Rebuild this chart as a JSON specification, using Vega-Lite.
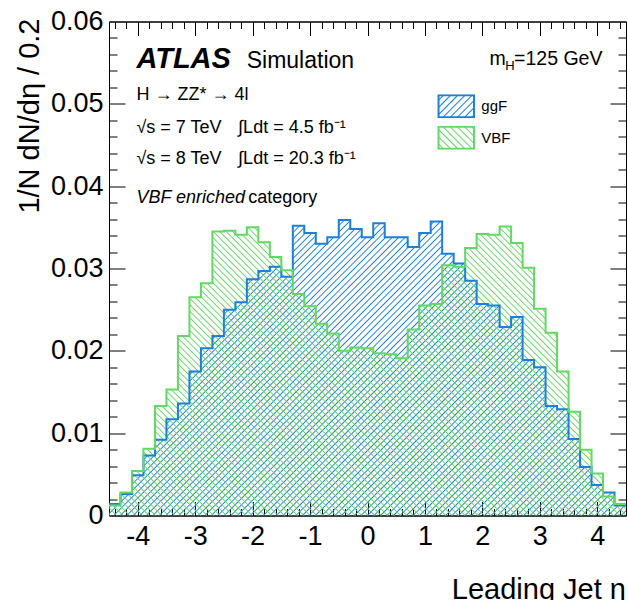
{
"$schema": "https://vega.github.io/schema/vega-lite/v6.json",
"width": 517, "height": 494,
"autosize": {"type": "none"},
"padding": {"left": 109, "top": 21.5, "right": 2, "bottom": 84.5},
"background": "white",
"config": {
 "font": "Liberation Sans",
 "view": {"stroke": "#000", "strokeWidth": 1},
 "axis": {"grid": false, "domainColor": "#000", "domainWidth": 1, "tickColor": "#000", "tickWidth": 1, "labelColor": "#000", "titleColor": "#000", "labelFont": "Liberation Sans", "titleFont": "Liberation Sans", "titleFontWeight": "normal", "zindex": 1, "labelFlush": false, "labelOverlap": false},
 "text": {"font": "Liberation Sans", "color": "#000", "align": "left", "baseline": "alphabetic"}
},
"datasets": {"h": [
{"eta":-4.5,"process":"ggF","density":0.0014},{"eta":-4.3,"process":"ggF","density":0.0026},{"eta":-4.1,"process":"ggF","density":0.0049},{"eta":-3.9,"process":"ggF","density":0.0073},{"eta":-3.7,"process":"ggF","density":0.0092},{"eta":-3.5,"process":"ggF","density":0.0117},{"eta":-3.3,"process":"ggF","density":0.0136},{"eta":-3.1,"process":"ggF","density":0.0175},{"eta":-2.9,"process":"ggF","density":0.0203},{"eta":-2.7,"process":"ggF","density":0.0218},{"eta":-2.5,"process":"ggF","density":0.025},{"eta":-2.3,"process":"ggF","density":0.0259},{"eta":-2.1,"process":"ggF","density":0.0287},{"eta":-1.9,"process":"ggF","density":0.0297},{"eta":-1.7,"process":"ggF","density":0.0302},{"eta":-1.5,"process":"ggF","density":0.029},{"eta":-1.3,"process":"ggF","density":0.0352},{"eta":-1.1,"process":"ggF","density":0.0343},{"eta":-0.9,"process":"ggF","density":0.033},{"eta":-0.7,"process":"ggF","density":0.0338},{"eta":-0.5,"process":"ggF","density":0.0359},{"eta":-0.3,"process":"ggF","density":0.0348},{"eta":-0.1,"process":"ggF","density":0.0338},{"eta":0.1,"process":"ggF","density":0.0355},{"eta":0.3,"process":"ggF","density":0.0338},{"eta":0.5,"process":"ggF","density":0.0338},{"eta":0.7,"process":"ggF","density":0.0326},{"eta":0.9,"process":"ggF","density":0.0343},{"eta":1.1,"process":"ggF","density":0.0357},{"eta":1.3,"process":"ggF","density":0.0318},{"eta":1.5,"process":"ggF","density":0.0306},{"eta":1.7,"process":"ggF","density":0.0285},{"eta":1.9,"process":"ggF","density":0.0257},{"eta":2.1,"process":"ggF","density":0.0255},{"eta":2.3,"process":"ggF","density":0.0229},{"eta":2.5,"process":"ggF","density":0.0241},{"eta":2.7,"process":"ggF","density":0.0189},{"eta":2.9,"process":"ggF","density":0.018},{"eta":3.1,"process":"ggF","density":0.0133},{"eta":3.3,"process":"ggF","density":0.0129},{"eta":3.5,"process":"ggF","density":0.0093},{"eta":3.7,"process":"ggF","density":0.0059},{"eta":3.9,"process":"ggF","density":0.0037},{"eta":4.1,"process":"ggF","density":0.0028},{"eta":4.3,"process":"ggF","density":0.0012},{"eta":4.5,"process":"ggF","density":0.0012},
{"eta":-4.5,"process":"VBF","density":0.0012},{"eta":-4.3,"process":"VBF","density":0.0028},{"eta":-4.1,"process":"VBF","density":0.0054},{"eta":-3.9,"process":"VBF","density":0.0081},{"eta":-3.7,"process":"VBF","density":0.0133},{"eta":-3.5,"process":"VBF","density":0.0153},{"eta":-3.3,"process":"VBF","density":0.0218},{"eta":-3.1,"process":"VBF","density":0.0265},{"eta":-2.9,"process":"VBF","density":0.0282},{"eta":-2.7,"process":"VBF","density":0.0345},{"eta":-2.5,"process":"VBF","density":0.0346},{"eta":-2.3,"process":"VBF","density":0.0341},{"eta":-2.1,"process":"VBF","density":0.035},{"eta":-1.9,"process":"VBF","density":0.0332},{"eta":-1.7,"process":"VBF","density":0.0314},{"eta":-1.5,"process":"VBF","density":0.0298},{"eta":-1.3,"process":"VBF","density":0.0269},{"eta":-1.1,"process":"VBF","density":0.0254},{"eta":-0.9,"process":"VBF","density":0.0233},{"eta":-0.7,"process":"VBF","density":0.0221},{"eta":-0.5,"process":"VBF","density":0.02},{"eta":-0.3,"process":"VBF","density":0.0204},{"eta":-0.1,"process":"VBF","density":0.0203},{"eta":0.1,"process":"VBF","density":0.0197},{"eta":0.3,"process":"VBF","density":0.0196},{"eta":0.5,"process":"VBF","density":0.0191},{"eta":0.7,"process":"VBF","density":0.0226},{"eta":0.9,"process":"VBF","density":0.0255},{"eta":1.1,"process":"VBF","density":0.0257},{"eta":1.3,"process":"VBF","density":0.0304},{"eta":1.5,"process":"VBF","density":0.0302},{"eta":1.7,"process":"VBF","density":0.0325},{"eta":1.9,"process":"VBF","density":0.0342},{"eta":2.1,"process":"VBF","density":0.0341},{"eta":2.3,"process":"VBF","density":0.0351},{"eta":2.5,"process":"VBF","density":0.0331},{"eta":2.7,"process":"VBF","density":0.0301},{"eta":2.9,"process":"VBF","density":0.0251},{"eta":3.1,"process":"VBF","density":0.0222},{"eta":3.3,"process":"VBF","density":0.0175},{"eta":3.5,"process":"VBF","density":0.0126},{"eta":3.7,"process":"VBF","density":0.008},{"eta":3.9,"process":"VBF","density":0.0051},{"eta":4.1,"process":"VBF","density":0.0023},{"eta":4.3,"process":"VBF","density":0.0014},{"eta":4.5,"process":"VBF","density":0.0014}
]},
"data": {"name": "h"},
"resolve": {"axis": {"x": "independent", "y": "independent"}},
"layer": [
{
 "transform": [{"filter": "datum.process === 'ggF'"}],
 "mark": {"type": "area", "interpolate": "step-after", "opacity": 1, "strokeWidth": 0, "fill": {"gradient": "linear", "x1": 0, "y1": 0, "x2": 1.185, "y2": 0.678, "stops": [
{"offset":0,"color":"#1a80dc00"},{"offset":0.0016,"color":"#1a80dc"},{"offset":0.0032,"color":"#1a80dc00"},
{"offset":0.008,"color":"#1a80dc00"},{"offset":0.0096,"color":"#1a80dc"},{"offset":0.0112,"color":"#1a80dc00"},
{"offset":0.016,"color":"#1a80dc00"},{"offset":0.0176,"color":"#1a80dc"},{"offset":0.0192,"color":"#1a80dc00"},
{"offset":0.024,"color":"#1a80dc00"},{"offset":0.0256,"color":"#1a80dc"},{"offset":0.0272,"color":"#1a80dc00"},
{"offset":0.032,"color":"#1a80dc00"},{"offset":0.0336,"color":"#1a80dc"},{"offset":0.0352,"color":"#1a80dc00"},
{"offset":0.04,"color":"#1a80dc00"},{"offset":0.0416,"color":"#1a80dc"},{"offset":0.0432,"color":"#1a80dc00"},
{"offset":0.048,"color":"#1a80dc00"},{"offset":0.0496,"color":"#1a80dc"},{"offset":0.0512,"color":"#1a80dc00"},
{"offset":0.056,"color":"#1a80dc00"},{"offset":0.0576,"color":"#1a80dc"},{"offset":0.0592,"color":"#1a80dc00"},
{"offset":0.064,"color":"#1a80dc00"},{"offset":0.0656,"color":"#1a80dc"},{"offset":0.0672,"color":"#1a80dc00"},
{"offset":0.072,"color":"#1a80dc00"},{"offset":0.0736,"color":"#1a80dc"},{"offset":0.0752,"color":"#1a80dc00"},
{"offset":0.08,"color":"#1a80dc00"},{"offset":0.0816,"color":"#1a80dc"},{"offset":0.0832,"color":"#1a80dc00"},
{"offset":0.088,"color":"#1a80dc00"},{"offset":0.0896,"color":"#1a80dc"},{"offset":0.0912,"color":"#1a80dc00"},
{"offset":0.096,"color":"#1a80dc00"},{"offset":0.0976,"color":"#1a80dc"},{"offset":0.0992,"color":"#1a80dc00"},
{"offset":0.104,"color":"#1a80dc00"},{"offset":0.1056,"color":"#1a80dc"},{"offset":0.1072,"color":"#1a80dc00"},
{"offset":0.112,"color":"#1a80dc00"},{"offset":0.1136,"color":"#1a80dc"},{"offset":0.1152,"color":"#1a80dc00"},
{"offset":0.12,"color":"#1a80dc00"},{"offset":0.1216,"color":"#1a80dc"},{"offset":0.1232,"color":"#1a80dc00"},
{"offset":0.128,"color":"#1a80dc00"},{"offset":0.1296,"color":"#1a80dc"},{"offset":0.1312,"color":"#1a80dc00"},
{"offset":0.136,"color":"#1a80dc00"},{"offset":0.1376,"color":"#1a80dc"},{"offset":0.1392,"color":"#1a80dc00"},
{"offset":0.144,"color":"#1a80dc00"},{"offset":0.1456,"color":"#1a80dc"},{"offset":0.1472,"color":"#1a80dc00"},
{"offset":0.152,"color":"#1a80dc00"},{"offset":0.1536,"color":"#1a80dc"},{"offset":0.1552,"color":"#1a80dc00"},
{"offset":0.16,"color":"#1a80dc00"},{"offset":0.1616,"color":"#1a80dc"},{"offset":0.1632,"color":"#1a80dc00"},
{"offset":0.168,"color":"#1a80dc00"},{"offset":0.1696,"color":"#1a80dc"},{"offset":0.1712,"color":"#1a80dc00"},
{"offset":0.176,"color":"#1a80dc00"},{"offset":0.1776,"color":"#1a80dc"},{"offset":0.1792,"color":"#1a80dc00"},
{"offset":0.184,"color":"#1a80dc00"},{"offset":0.1856,"color":"#1a80dc"},{"offset":0.1872,"color":"#1a80dc00"},
{"offset":0.192,"color":"#1a80dc00"},{"offset":0.1936,"color":"#1a80dc"},{"offset":0.1952,"color":"#1a80dc00"},
{"offset":0.2,"color":"#1a80dc00"},{"offset":0.2016,"color":"#1a80dc"},{"offset":0.2032,"color":"#1a80dc00"},
{"offset":0.208,"color":"#1a80dc00"},{"offset":0.2096,"color":"#1a80dc"},{"offset":0.2112,"color":"#1a80dc00"},
{"offset":0.216,"color":"#1a80dc00"},{"offset":0.2176,"color":"#1a80dc"},{"offset":0.2192,"color":"#1a80dc00"},
{"offset":0.224,"color":"#1a80dc00"},{"offset":0.2256,"color":"#1a80dc"},{"offset":0.2272,"color":"#1a80dc00"},
{"offset":0.232,"color":"#1a80dc00"},{"offset":0.2336,"color":"#1a80dc"},{"offset":0.2352,"color":"#1a80dc00"},
{"offset":0.24,"color":"#1a80dc00"},{"offset":0.2416,"color":"#1a80dc"},{"offset":0.2432,"color":"#1a80dc00"},
{"offset":0.248,"color":"#1a80dc00"},{"offset":0.2496,"color":"#1a80dc"},{"offset":0.2512,"color":"#1a80dc00"},
{"offset":0.256,"color":"#1a80dc00"},{"offset":0.2576,"color":"#1a80dc"},{"offset":0.2592,"color":"#1a80dc00"},
{"offset":0.264,"color":"#1a80dc00"},{"offset":0.2656,"color":"#1a80dc"},{"offset":0.2672,"color":"#1a80dc00"},
{"offset":0.272,"color":"#1a80dc00"},{"offset":0.2736,"color":"#1a80dc"},{"offset":0.2752,"color":"#1a80dc00"},
{"offset":0.28,"color":"#1a80dc00"},{"offset":0.2816,"color":"#1a80dc"},{"offset":0.2832,"color":"#1a80dc00"},
{"offset":0.288,"color":"#1a80dc00"},{"offset":0.2896,"color":"#1a80dc"},{"offset":0.2912,"color":"#1a80dc00"},
{"offset":0.296,"color":"#1a80dc00"},{"offset":0.2976,"color":"#1a80dc"},{"offset":0.2992,"color":"#1a80dc00"},
{"offset":0.304,"color":"#1a80dc00"},{"offset":0.3056,"color":"#1a80dc"},{"offset":0.3072,"color":"#1a80dc00"},
{"offset":0.312,"color":"#1a80dc00"},{"offset":0.3136,"color":"#1a80dc"},{"offset":0.3152,"color":"#1a80dc00"},
{"offset":0.32,"color":"#1a80dc00"},{"offset":0.3216,"color":"#1a80dc"},{"offset":0.3232,"color":"#1a80dc00"},
{"offset":0.328,"color":"#1a80dc00"},{"offset":0.3296,"color":"#1a80dc"},{"offset":0.3312,"color":"#1a80dc00"},
{"offset":0.336,"color":"#1a80dc00"},{"offset":0.3376,"color":"#1a80dc"},{"offset":0.3392,"color":"#1a80dc00"},
{"offset":0.344,"color":"#1a80dc00"},{"offset":0.3456,"color":"#1a80dc"},{"offset":0.3472,"color":"#1a80dc00"},
{"offset":0.352,"color":"#1a80dc00"},{"offset":0.3536,"color":"#1a80dc"},{"offset":0.3552,"color":"#1a80dc00"},
{"offset":0.36,"color":"#1a80dc00"},{"offset":0.3616,"color":"#1a80dc"},{"offset":0.3632,"color":"#1a80dc00"},
{"offset":0.368,"color":"#1a80dc00"},{"offset":0.3696,"color":"#1a80dc"},{"offset":0.3712,"color":"#1a80dc00"},
{"offset":0.376,"color":"#1a80dc00"},{"offset":0.3776,"color":"#1a80dc"},{"offset":0.3792,"color":"#1a80dc00"},
{"offset":0.384,"color":"#1a80dc00"},{"offset":0.3856,"color":"#1a80dc"},{"offset":0.3872,"color":"#1a80dc00"},
{"offset":0.392,"color":"#1a80dc00"},{"offset":0.3936,"color":"#1a80dc"},{"offset":0.3952,"color":"#1a80dc00"},
{"offset":0.4,"color":"#1a80dc00"},{"offset":0.4016,"color":"#1a80dc"},{"offset":0.4032,"color":"#1a80dc00"},
{"offset":0.408,"color":"#1a80dc00"},{"offset":0.4096,"color":"#1a80dc"},{"offset":0.4112,"color":"#1a80dc00"},
{"offset":0.416,"color":"#1a80dc00"},{"offset":0.4176,"color":"#1a80dc"},{"offset":0.4192,"color":"#1a80dc00"},
{"offset":0.424,"color":"#1a80dc00"},{"offset":0.4256,"color":"#1a80dc"},{"offset":0.4272,"color":"#1a80dc00"},
{"offset":0.432,"color":"#1a80dc00"},{"offset":0.4336,"color":"#1a80dc"},{"offset":0.4352,"color":"#1a80dc00"},
{"offset":0.44,"color":"#1a80dc00"},{"offset":0.4416,"color":"#1a80dc"},{"offset":0.4432,"color":"#1a80dc00"},
{"offset":0.448,"color":"#1a80dc00"},{"offset":0.4496,"color":"#1a80dc"},{"offset":0.4512,"color":"#1a80dc00"},
{"offset":0.456,"color":"#1a80dc00"},{"offset":0.4576,"color":"#1a80dc"},{"offset":0.4592,"color":"#1a80dc00"},
{"offset":0.464,"color":"#1a80dc00"},{"offset":0.4656,"color":"#1a80dc"},{"offset":0.4672,"color":"#1a80dc00"},
{"offset":0.472,"color":"#1a80dc00"},{"offset":0.4736,"color":"#1a80dc"},{"offset":0.4752,"color":"#1a80dc00"},
{"offset":0.48,"color":"#1a80dc00"},{"offset":0.4816,"color":"#1a80dc"},{"offset":0.4832,"color":"#1a80dc00"},
{"offset":0.488,"color":"#1a80dc00"},{"offset":0.4896,"color":"#1a80dc"},{"offset":0.4912,"color":"#1a80dc00"},
{"offset":0.496,"color":"#1a80dc00"},{"offset":0.4976,"color":"#1a80dc"},{"offset":0.4992,"color":"#1a80dc00"},
{"offset":0.504,"color":"#1a80dc00"},{"offset":0.5056,"color":"#1a80dc"},{"offset":0.5072,"color":"#1a80dc00"},
{"offset":0.512,"color":"#1a80dc00"},{"offset":0.5136,"color":"#1a80dc"},{"offset":0.5152,"color":"#1a80dc00"},
{"offset":0.52,"color":"#1a80dc00"},{"offset":0.5216,"color":"#1a80dc"},{"offset":0.5232,"color":"#1a80dc00"},
{"offset":0.528,"color":"#1a80dc00"},{"offset":0.5296,"color":"#1a80dc"},{"offset":0.5312,"color":"#1a80dc00"},
{"offset":0.536,"color":"#1a80dc00"},{"offset":0.5376,"color":"#1a80dc"},{"offset":0.5392,"color":"#1a80dc00"},
{"offset":0.544,"color":"#1a80dc00"},{"offset":0.5456,"color":"#1a80dc"},{"offset":0.5472,"color":"#1a80dc00"},
{"offset":0.552,"color":"#1a80dc00"},{"offset":0.5536,"color":"#1a80dc"},{"offset":0.5552,"color":"#1a80dc00"},
{"offset":0.56,"color":"#1a80dc00"},{"offset":0.5616,"color":"#1a80dc"},{"offset":0.5632,"color":"#1a80dc00"},
{"offset":0.568,"color":"#1a80dc00"},{"offset":0.5696,"color":"#1a80dc"},{"offset":0.5712,"color":"#1a80dc00"},
{"offset":0.576,"color":"#1a80dc00"},{"offset":0.5776,"color":"#1a80dc"},{"offset":0.5792,"color":"#1a80dc00"},
{"offset":0.584,"color":"#1a80dc00"},{"offset":0.5856,"color":"#1a80dc"},{"offset":0.5872,"color":"#1a80dc00"},
{"offset":0.592,"color":"#1a80dc00"},{"offset":0.5936,"color":"#1a80dc"},{"offset":0.5952,"color":"#1a80dc00"},
{"offset":0.6,"color":"#1a80dc00"},{"offset":0.6016,"color":"#1a80dc"},{"offset":0.6032,"color":"#1a80dc00"},
{"offset":0.608,"color":"#1a80dc00"},{"offset":0.6096,"color":"#1a80dc"},{"offset":0.6112,"color":"#1a80dc00"},
{"offset":0.616,"color":"#1a80dc00"},{"offset":0.6176,"color":"#1a80dc"},{"offset":0.6192,"color":"#1a80dc00"},
{"offset":0.624,"color":"#1a80dc00"},{"offset":0.6256,"color":"#1a80dc"},{"offset":0.6272,"color":"#1a80dc00"},
{"offset":0.632,"color":"#1a80dc00"},{"offset":0.6336,"color":"#1a80dc"},{"offset":0.6352,"color":"#1a80dc00"},
{"offset":0.64,"color":"#1a80dc00"},{"offset":0.6416,"color":"#1a80dc"},{"offset":0.6432,"color":"#1a80dc00"},
{"offset":0.648,"color":"#1a80dc00"},{"offset":0.6496,"color":"#1a80dc"},{"offset":0.6512,"color":"#1a80dc00"},
{"offset":0.656,"color":"#1a80dc00"},{"offset":0.6576,"color":"#1a80dc"},{"offset":0.6592,"color":"#1a80dc00"},
{"offset":0.664,"color":"#1a80dc00"},{"offset":0.6656,"color":"#1a80dc"},{"offset":0.6672,"color":"#1a80dc00"},
{"offset":0.672,"color":"#1a80dc00"},{"offset":0.6736,"color":"#1a80dc"},{"offset":0.6752,"color":"#1a80dc00"},
{"offset":0.68,"color":"#1a80dc00"},{"offset":0.6816,"color":"#1a80dc"},{"offset":0.6832,"color":"#1a80dc00"},
{"offset":0.688,"color":"#1a80dc00"},{"offset":0.6896,"color":"#1a80dc"},{"offset":0.6912,"color":"#1a80dc00"},
{"offset":0.696,"color":"#1a80dc00"},{"offset":0.6976,"color":"#1a80dc"},{"offset":0.6992,"color":"#1a80dc00"},
{"offset":0.704,"color":"#1a80dc00"},{"offset":0.7056,"color":"#1a80dc"},{"offset":0.7072,"color":"#1a80dc00"},
{"offset":0.712,"color":"#1a80dc00"},{"offset":0.7136,"color":"#1a80dc"},{"offset":0.7152,"color":"#1a80dc00"},
{"offset":0.72,"color":"#1a80dc00"},{"offset":0.7216,"color":"#1a80dc"},{"offset":0.7232,"color":"#1a80dc00"},
{"offset":0.728,"color":"#1a80dc00"},{"offset":0.7296,"color":"#1a80dc"},{"offset":0.7312,"color":"#1a80dc00"},
{"offset":0.736,"color":"#1a80dc00"},{"offset":0.7376,"color":"#1a80dc"},{"offset":0.7392,"color":"#1a80dc00"},
{"offset":0.744,"color":"#1a80dc00"},{"offset":0.7456,"color":"#1a80dc"},{"offset":0.7472,"color":"#1a80dc00"},
{"offset":0.752,"color":"#1a80dc00"},{"offset":0.7536,"color":"#1a80dc"},{"offset":0.7552,"color":"#1a80dc00"},
{"offset":0.76,"color":"#1a80dc00"},{"offset":0.7616,"color":"#1a80dc"},{"offset":0.7632,"color":"#1a80dc00"},
{"offset":0.768,"color":"#1a80dc00"},{"offset":0.7696,"color":"#1a80dc"},{"offset":0.7712,"color":"#1a80dc00"},
{"offset":0.776,"color":"#1a80dc00"},{"offset":0.7776,"color":"#1a80dc"},{"offset":0.7792,"color":"#1a80dc00"},
{"offset":0.784,"color":"#1a80dc00"},{"offset":0.7856,"color":"#1a80dc"},{"offset":0.7872,"color":"#1a80dc00"},
{"offset":0.792,"color":"#1a80dc00"},{"offset":0.7936,"color":"#1a80dc"},{"offset":0.7952,"color":"#1a80dc00"},
{"offset":0.8,"color":"#1a80dc00"},{"offset":0.8016,"color":"#1a80dc"},{"offset":0.8032,"color":"#1a80dc00"},
{"offset":0.808,"color":"#1a80dc00"},{"offset":0.8096,"color":"#1a80dc"},{"offset":0.8112,"color":"#1a80dc00"},
{"offset":0.816,"color":"#1a80dc00"},{"offset":0.8176,"color":"#1a80dc"},{"offset":0.8192,"color":"#1a80dc00"},
{"offset":0.824,"color":"#1a80dc00"},{"offset":0.8256,"color":"#1a80dc"},{"offset":0.8272,"color":"#1a80dc00"},
{"offset":0.832,"color":"#1a80dc00"},{"offset":0.8336,"color":"#1a80dc"},{"offset":0.8352,"color":"#1a80dc00"},
{"offset":0.84,"color":"#1a80dc00"},{"offset":0.8416,"color":"#1a80dc"},{"offset":0.8432,"color":"#1a80dc00"},
{"offset":0.848,"color":"#1a80dc00"},{"offset":0.8496,"color":"#1a80dc"},{"offset":0.8512,"color":"#1a80dc00"},
{"offset":0.856,"color":"#1a80dc00"},{"offset":0.8576,"color":"#1a80dc"},{"offset":0.8592,"color":"#1a80dc00"},
{"offset":0.864,"color":"#1a80dc00"},{"offset":0.8656,"color":"#1a80dc"},{"offset":0.8672,"color":"#1a80dc00"},
{"offset":0.872,"color":"#1a80dc00"},{"offset":0.8736,"color":"#1a80dc"},{"offset":0.8752,"color":"#1a80dc00"},
{"offset":0.88,"color":"#1a80dc00"},{"offset":0.8816,"color":"#1a80dc"},{"offset":0.8832,"color":"#1a80dc00"},
{"offset":0.888,"color":"#1a80dc00"},{"offset":0.8896,"color":"#1a80dc"},{"offset":0.8912,"color":"#1a80dc00"},
{"offset":0.896,"color":"#1a80dc00"},{"offset":0.8976,"color":"#1a80dc"},{"offset":0.8992,"color":"#1a80dc00"},
{"offset":0.904,"color":"#1a80dc00"},{"offset":0.9056,"color":"#1a80dc"},{"offset":0.9072,"color":"#1a80dc00"},
{"offset":0.912,"color":"#1a80dc00"},{"offset":0.9136,"color":"#1a80dc"},{"offset":0.9152,"color":"#1a80dc00"},
{"offset":0.92,"color":"#1a80dc00"},{"offset":0.9216,"color":"#1a80dc"},{"offset":0.9232,"color":"#1a80dc00"},
{"offset":0.928,"color":"#1a80dc00"},{"offset":0.9296,"color":"#1a80dc"},{"offset":0.9312,"color":"#1a80dc00"},
{"offset":0.936,"color":"#1a80dc00"},{"offset":0.9376,"color":"#1a80dc"},{"offset":0.9392,"color":"#1a80dc00"},
{"offset":0.944,"color":"#1a80dc00"},{"offset":0.9456,"color":"#1a80dc"},{"offset":0.9472,"color":"#1a80dc00"},
{"offset":0.952,"color":"#1a80dc00"},{"offset":0.9536,"color":"#1a80dc"},{"offset":0.9552,"color":"#1a80dc00"},
{"offset":0.96,"color":"#1a80dc00"},{"offset":0.9616,"color":"#1a80dc"},{"offset":0.9632,"color":"#1a80dc00"},
{"offset":0.968,"color":"#1a80dc00"},{"offset":0.9696,"color":"#1a80dc"},{"offset":0.9712,"color":"#1a80dc00"},
{"offset":0.976,"color":"#1a80dc00"},{"offset":0.9776,"color":"#1a80dc"},{"offset":0.9792,"color":"#1a80dc00"},
{"offset":0.984,"color":"#1a80dc00"},{"offset":0.9856,"color":"#1a80dc"},{"offset":0.9872,"color":"#1a80dc00"},
{"offset":0.992,"color":"#1a80dc00"},{"offset":0.9936,"color":"#1a80dc"},{"offset":0.9952,"color":"#1a80dc00"}
 ]}},
 "encoding": {
  "x": {"field": "eta", "type": "quantitative", "scale": {"domain": [-4.5, 4.5], "nice": false, "zero": false},
   "axis": {"orient": "bottom", "values": [-4,-3,-2,-1,0,1,2,3,4], "ticks": false, "domain": true, "labelFontSize": 27, "labelPadding": 7.5, "labelExpr": "datum.value < 0 ? '-' + abs(datum.value) : '' + datum.value", "title": "Leading Jet η", "titleFontSize": 29, "titleAlign": "right", "titleBaseline": "alphabetic", "titleX": 516.5, "titleY": 83}},
  "y": {"field": "density", "type": "quantitative", "scale": {"domain": [0, 0.06], "nice": false},
   "axis": {"orient": "left", "values": [0,0.01,0.02,0.03,0.04,0.05,0.06], "ticks": false, "domain": true, "labelFontSize": 27, "labelPadding": 6, "labelExpr": "datum.value === 0 ? '0' : format(datum.value, '.2f')", "title": "1/N dN/dη / 0.2", "titleFontSize": 29, "titleAngle": 270, "titleAlign": "right", "titleBaseline": "alphabetic", "titleX": -71, "titleY": -3.5}}
 }
},
{
 "transform": [{"filter": "datum.process === 'VBF'"}],
 "mark": {"type": "area", "interpolate": "step-after", "opacity": 1, "strokeWidth": 0, "fill": {"gradient": "linear", "x1": 0, "y1": 1, "x2": 1.188, "y2": 0.336, "stops": [
{"offset":0,"color":"#62d96200"},{"offset":0.0016,"color":"#62d962"},{"offset":0.0032,"color":"#62d96200"},
{"offset":0.008,"color":"#62d96200"},{"offset":0.0096,"color":"#62d962"},{"offset":0.0112,"color":"#62d96200"},
{"offset":0.016,"color":"#62d96200"},{"offset":0.0176,"color":"#62d962"},{"offset":0.0192,"color":"#62d96200"},
{"offset":0.024,"color":"#62d96200"},{"offset":0.0256,"color":"#62d962"},{"offset":0.0272,"color":"#62d96200"},
{"offset":0.032,"color":"#62d96200"},{"offset":0.0336,"color":"#62d962"},{"offset":0.0352,"color":"#62d96200"},
{"offset":0.04,"color":"#62d96200"},{"offset":0.0416,"color":"#62d962"},{"offset":0.0432,"color":"#62d96200"},
{"offset":0.048,"color":"#62d96200"},{"offset":0.0496,"color":"#62d962"},{"offset":0.0512,"color":"#62d96200"},
{"offset":0.056,"color":"#62d96200"},{"offset":0.0576,"color":"#62d962"},{"offset":0.0592,"color":"#62d96200"},
{"offset":0.064,"color":"#62d96200"},{"offset":0.0656,"color":"#62d962"},{"offset":0.0672,"color":"#62d96200"},
{"offset":0.072,"color":"#62d96200"},{"offset":0.0736,"color":"#62d962"},{"offset":0.0752,"color":"#62d96200"},
{"offset":0.08,"color":"#62d96200"},{"offset":0.0816,"color":"#62d962"},{"offset":0.0832,"color":"#62d96200"},
{"offset":0.088,"color":"#62d96200"},{"offset":0.0896,"color":"#62d962"},{"offset":0.0912,"color":"#62d96200"},
{"offset":0.096,"color":"#62d96200"},{"offset":0.0976,"color":"#62d962"},{"offset":0.0992,"color":"#62d96200"},
{"offset":0.104,"color":"#62d96200"},{"offset":0.1056,"color":"#62d962"},{"offset":0.1072,"color":"#62d96200"},
{"offset":0.112,"color":"#62d96200"},{"offset":0.1136,"color":"#62d962"},{"offset":0.1152,"color":"#62d96200"},
{"offset":0.12,"color":"#62d96200"},{"offset":0.1216,"color":"#62d962"},{"offset":0.1232,"color":"#62d96200"},
{"offset":0.128,"color":"#62d96200"},{"offset":0.1296,"color":"#62d962"},{"offset":0.1312,"color":"#62d96200"},
{"offset":0.136,"color":"#62d96200"},{"offset":0.1376,"color":"#62d962"},{"offset":0.1392,"color":"#62d96200"},
{"offset":0.144,"color":"#62d96200"},{"offset":0.1456,"color":"#62d962"},{"offset":0.1472,"color":"#62d96200"},
{"offset":0.152,"color":"#62d96200"},{"offset":0.1536,"color":"#62d962"},{"offset":0.1552,"color":"#62d96200"},
{"offset":0.16,"color":"#62d96200"},{"offset":0.1616,"color":"#62d962"},{"offset":0.1632,"color":"#62d96200"},
{"offset":0.168,"color":"#62d96200"},{"offset":0.1696,"color":"#62d962"},{"offset":0.1712,"color":"#62d96200"},
{"offset":0.176,"color":"#62d96200"},{"offset":0.1776,"color":"#62d962"},{"offset":0.1792,"color":"#62d96200"},
{"offset":0.184,"color":"#62d96200"},{"offset":0.1856,"color":"#62d962"},{"offset":0.1872,"color":"#62d96200"},
{"offset":0.192,"color":"#62d96200"},{"offset":0.1936,"color":"#62d962"},{"offset":0.1952,"color":"#62d96200"},
{"offset":0.2,"color":"#62d96200"},{"offset":0.2016,"color":"#62d962"},{"offset":0.2032,"color":"#62d96200"},
{"offset":0.208,"color":"#62d96200"},{"offset":0.2096,"color":"#62d962"},{"offset":0.2112,"color":"#62d96200"},
{"offset":0.216,"color":"#62d96200"},{"offset":0.2176,"color":"#62d962"},{"offset":0.2192,"color":"#62d96200"},
{"offset":0.224,"color":"#62d96200"},{"offset":0.2256,"color":"#62d962"},{"offset":0.2272,"color":"#62d96200"},
{"offset":0.232,"color":"#62d96200"},{"offset":0.2336,"color":"#62d962"},{"offset":0.2352,"color":"#62d96200"},
{"offset":0.24,"color":"#62d96200"},{"offset":0.2416,"color":"#62d962"},{"offset":0.2432,"color":"#62d96200"},
{"offset":0.248,"color":"#62d96200"},{"offset":0.2496,"color":"#62d962"},{"offset":0.2512,"color":"#62d96200"},
{"offset":0.256,"color":"#62d96200"},{"offset":0.2576,"color":"#62d962"},{"offset":0.2592,"color":"#62d96200"},
{"offset":0.264,"color":"#62d96200"},{"offset":0.2656,"color":"#62d962"},{"offset":0.2672,"color":"#62d96200"},
{"offset":0.272,"color":"#62d96200"},{"offset":0.2736,"color":"#62d962"},{"offset":0.2752,"color":"#62d96200"},
{"offset":0.28,"color":"#62d96200"},{"offset":0.2816,"color":"#62d962"},{"offset":0.2832,"color":"#62d96200"},
{"offset":0.288,"color":"#62d96200"},{"offset":0.2896,"color":"#62d962"},{"offset":0.2912,"color":"#62d96200"},
{"offset":0.296,"color":"#62d96200"},{"offset":0.2976,"color":"#62d962"},{"offset":0.2992,"color":"#62d96200"},
{"offset":0.304,"color":"#62d96200"},{"offset":0.3056,"color":"#62d962"},{"offset":0.3072,"color":"#62d96200"},
{"offset":0.312,"color":"#62d96200"},{"offset":0.3136,"color":"#62d962"},{"offset":0.3152,"color":"#62d96200"},
{"offset":0.32,"color":"#62d96200"},{"offset":0.3216,"color":"#62d962"},{"offset":0.3232,"color":"#62d96200"},
{"offset":0.328,"color":"#62d96200"},{"offset":0.3296,"color":"#62d962"},{"offset":0.3312,"color":"#62d96200"},
{"offset":0.336,"color":"#62d96200"},{"offset":0.3376,"color":"#62d962"},{"offset":0.3392,"color":"#62d96200"},
{"offset":0.344,"color":"#62d96200"},{"offset":0.3456,"color":"#62d962"},{"offset":0.3472,"color":"#62d96200"},
{"offset":0.352,"color":"#62d96200"},{"offset":0.3536,"color":"#62d962"},{"offset":0.3552,"color":"#62d96200"},
{"offset":0.36,"color":"#62d96200"},{"offset":0.3616,"color":"#62d962"},{"offset":0.3632,"color":"#62d96200"},
{"offset":0.368,"color":"#62d96200"},{"offset":0.3696,"color":"#62d962"},{"offset":0.3712,"color":"#62d96200"},
{"offset":0.376,"color":"#62d96200"},{"offset":0.3776,"color":"#62d962"},{"offset":0.3792,"color":"#62d96200"},
{"offset":0.384,"color":"#62d96200"},{"offset":0.3856,"color":"#62d962"},{"offset":0.3872,"color":"#62d96200"},
{"offset":0.392,"color":"#62d96200"},{"offset":0.3936,"color":"#62d962"},{"offset":0.3952,"color":"#62d96200"},
{"offset":0.4,"color":"#62d96200"},{"offset":0.4016,"color":"#62d962"},{"offset":0.4032,"color":"#62d96200"},
{"offset":0.408,"color":"#62d96200"},{"offset":0.4096,"color":"#62d962"},{"offset":0.4112,"color":"#62d96200"},
{"offset":0.416,"color":"#62d96200"},{"offset":0.4176,"color":"#62d962"},{"offset":0.4192,"color":"#62d96200"},
{"offset":0.424,"color":"#62d96200"},{"offset":0.4256,"color":"#62d962"},{"offset":0.4272,"color":"#62d96200"},
{"offset":0.432,"color":"#62d96200"},{"offset":0.4336,"color":"#62d962"},{"offset":0.4352,"color":"#62d96200"},
{"offset":0.44,"color":"#62d96200"},{"offset":0.4416,"color":"#62d962"},{"offset":0.4432,"color":"#62d96200"},
{"offset":0.448,"color":"#62d96200"},{"offset":0.4496,"color":"#62d962"},{"offset":0.4512,"color":"#62d96200"},
{"offset":0.456,"color":"#62d96200"},{"offset":0.4576,"color":"#62d962"},{"offset":0.4592,"color":"#62d96200"},
{"offset":0.464,"color":"#62d96200"},{"offset":0.4656,"color":"#62d962"},{"offset":0.4672,"color":"#62d96200"},
{"offset":0.472,"color":"#62d96200"},{"offset":0.4736,"color":"#62d962"},{"offset":0.4752,"color":"#62d96200"},
{"offset":0.48,"color":"#62d96200"},{"offset":0.4816,"color":"#62d962"},{"offset":0.4832,"color":"#62d96200"},
{"offset":0.488,"color":"#62d96200"},{"offset":0.4896,"color":"#62d962"},{"offset":0.4912,"color":"#62d96200"},
{"offset":0.496,"color":"#62d96200"},{"offset":0.4976,"color":"#62d962"},{"offset":0.4992,"color":"#62d96200"},
{"offset":0.504,"color":"#62d96200"},{"offset":0.5056,"color":"#62d962"},{"offset":0.5072,"color":"#62d96200"},
{"offset":0.512,"color":"#62d96200"},{"offset":0.5136,"color":"#62d962"},{"offset":0.5152,"color":"#62d96200"},
{"offset":0.52,"color":"#62d96200"},{"offset":0.5216,"color":"#62d962"},{"offset":0.5232,"color":"#62d96200"},
{"offset":0.528,"color":"#62d96200"},{"offset":0.5296,"color":"#62d962"},{"offset":0.5312,"color":"#62d96200"},
{"offset":0.536,"color":"#62d96200"},{"offset":0.5376,"color":"#62d962"},{"offset":0.5392,"color":"#62d96200"},
{"offset":0.544,"color":"#62d96200"},{"offset":0.5456,"color":"#62d962"},{"offset":0.5472,"color":"#62d96200"},
{"offset":0.552,"color":"#62d96200"},{"offset":0.5536,"color":"#62d962"},{"offset":0.5552,"color":"#62d96200"},
{"offset":0.56,"color":"#62d96200"},{"offset":0.5616,"color":"#62d962"},{"offset":0.5632,"color":"#62d96200"},
{"offset":0.568,"color":"#62d96200"},{"offset":0.5696,"color":"#62d962"},{"offset":0.5712,"color":"#62d96200"},
{"offset":0.576,"color":"#62d96200"},{"offset":0.5776,"color":"#62d962"},{"offset":0.5792,"color":"#62d96200"},
{"offset":0.584,"color":"#62d96200"},{"offset":0.5856,"color":"#62d962"},{"offset":0.5872,"color":"#62d96200"},
{"offset":0.592,"color":"#62d96200"},{"offset":0.5936,"color":"#62d962"},{"offset":0.5952,"color":"#62d96200"},
{"offset":0.6,"color":"#62d96200"},{"offset":0.6016,"color":"#62d962"},{"offset":0.6032,"color":"#62d96200"},
{"offset":0.608,"color":"#62d96200"},{"offset":0.6096,"color":"#62d962"},{"offset":0.6112,"color":"#62d96200"},
{"offset":0.616,"color":"#62d96200"},{"offset":0.6176,"color":"#62d962"},{"offset":0.6192,"color":"#62d96200"},
{"offset":0.624,"color":"#62d96200"},{"offset":0.6256,"color":"#62d962"},{"offset":0.6272,"color":"#62d96200"},
{"offset":0.632,"color":"#62d96200"},{"offset":0.6336,"color":"#62d962"},{"offset":0.6352,"color":"#62d96200"},
{"offset":0.64,"color":"#62d96200"},{"offset":0.6416,"color":"#62d962"},{"offset":0.6432,"color":"#62d96200"},
{"offset":0.648,"color":"#62d96200"},{"offset":0.6496,"color":"#62d962"},{"offset":0.6512,"color":"#62d96200"},
{"offset":0.656,"color":"#62d96200"},{"offset":0.6576,"color":"#62d962"},{"offset":0.6592,"color":"#62d96200"},
{"offset":0.664,"color":"#62d96200"},{"offset":0.6656,"color":"#62d962"},{"offset":0.6672,"color":"#62d96200"},
{"offset":0.672,"color":"#62d96200"},{"offset":0.6736,"color":"#62d962"},{"offset":0.6752,"color":"#62d96200"},
{"offset":0.68,"color":"#62d96200"},{"offset":0.6816,"color":"#62d962"},{"offset":0.6832,"color":"#62d96200"},
{"offset":0.688,"color":"#62d96200"},{"offset":0.6896,"color":"#62d962"},{"offset":0.6912,"color":"#62d96200"},
{"offset":0.696,"color":"#62d96200"},{"offset":0.6976,"color":"#62d962"},{"offset":0.6992,"color":"#62d96200"},
{"offset":0.704,"color":"#62d96200"},{"offset":0.7056,"color":"#62d962"},{"offset":0.7072,"color":"#62d96200"},
{"offset":0.712,"color":"#62d96200"},{"offset":0.7136,"color":"#62d962"},{"offset":0.7152,"color":"#62d96200"},
{"offset":0.72,"color":"#62d96200"},{"offset":0.7216,"color":"#62d962"},{"offset":0.7232,"color":"#62d96200"},
{"offset":0.728,"color":"#62d96200"},{"offset":0.7296,"color":"#62d962"},{"offset":0.7312,"color":"#62d96200"},
{"offset":0.736,"color":"#62d96200"},{"offset":0.7376,"color":"#62d962"},{"offset":0.7392,"color":"#62d96200"},
{"offset":0.744,"color":"#62d96200"},{"offset":0.7456,"color":"#62d962"},{"offset":0.7472,"color":"#62d96200"},
{"offset":0.752,"color":"#62d96200"},{"offset":0.7536,"color":"#62d962"},{"offset":0.7552,"color":"#62d96200"},
{"offset":0.76,"color":"#62d96200"},{"offset":0.7616,"color":"#62d962"},{"offset":0.7632,"color":"#62d96200"},
{"offset":0.768,"color":"#62d96200"},{"offset":0.7696,"color":"#62d962"},{"offset":0.7712,"color":"#62d96200"},
{"offset":0.776,"color":"#62d96200"},{"offset":0.7776,"color":"#62d962"},{"offset":0.7792,"color":"#62d96200"},
{"offset":0.784,"color":"#62d96200"},{"offset":0.7856,"color":"#62d962"},{"offset":0.7872,"color":"#62d96200"},
{"offset":0.792,"color":"#62d96200"},{"offset":0.7936,"color":"#62d962"},{"offset":0.7952,"color":"#62d96200"},
{"offset":0.8,"color":"#62d96200"},{"offset":0.8016,"color":"#62d962"},{"offset":0.8032,"color":"#62d96200"},
{"offset":0.808,"color":"#62d96200"},{"offset":0.8096,"color":"#62d962"},{"offset":0.8112,"color":"#62d96200"},
{"offset":0.816,"color":"#62d96200"},{"offset":0.8176,"color":"#62d962"},{"offset":0.8192,"color":"#62d96200"},
{"offset":0.824,"color":"#62d96200"},{"offset":0.8256,"color":"#62d962"},{"offset":0.8272,"color":"#62d96200"},
{"offset":0.832,"color":"#62d96200"},{"offset":0.8336,"color":"#62d962"},{"offset":0.8352,"color":"#62d96200"},
{"offset":0.84,"color":"#62d96200"},{"offset":0.8416,"color":"#62d962"},{"offset":0.8432,"color":"#62d96200"},
{"offset":0.848,"color":"#62d96200"},{"offset":0.8496,"color":"#62d962"},{"offset":0.8512,"color":"#62d96200"},
{"offset":0.856,"color":"#62d96200"},{"offset":0.8576,"color":"#62d962"},{"offset":0.8592,"color":"#62d96200"},
{"offset":0.864,"color":"#62d96200"},{"offset":0.8656,"color":"#62d962"},{"offset":0.8672,"color":"#62d96200"},
{"offset":0.872,"color":"#62d96200"},{"offset":0.8736,"color":"#62d962"},{"offset":0.8752,"color":"#62d96200"},
{"offset":0.88,"color":"#62d96200"},{"offset":0.8816,"color":"#62d962"},{"offset":0.8832,"color":"#62d96200"},
{"offset":0.888,"color":"#62d96200"},{"offset":0.8896,"color":"#62d962"},{"offset":0.8912,"color":"#62d96200"},
{"offset":0.896,"color":"#62d96200"},{"offset":0.8976,"color":"#62d962"},{"offset":0.8992,"color":"#62d96200"},
{"offset":0.904,"color":"#62d96200"},{"offset":0.9056,"color":"#62d962"},{"offset":0.9072,"color":"#62d96200"},
{"offset":0.912,"color":"#62d96200"},{"offset":0.9136,"color":"#62d962"},{"offset":0.9152,"color":"#62d96200"},
{"offset":0.92,"color":"#62d96200"},{"offset":0.9216,"color":"#62d962"},{"offset":0.9232,"color":"#62d96200"},
{"offset":0.928,"color":"#62d96200"},{"offset":0.9296,"color":"#62d962"},{"offset":0.9312,"color":"#62d96200"},
{"offset":0.936,"color":"#62d96200"},{"offset":0.9376,"color":"#62d962"},{"offset":0.9392,"color":"#62d96200"},
{"offset":0.944,"color":"#62d96200"},{"offset":0.9456,"color":"#62d962"},{"offset":0.9472,"color":"#62d96200"},
{"offset":0.952,"color":"#62d96200"},{"offset":0.9536,"color":"#62d962"},{"offset":0.9552,"color":"#62d96200"},
{"offset":0.96,"color":"#62d96200"},{"offset":0.9616,"color":"#62d962"},{"offset":0.9632,"color":"#62d96200"},
{"offset":0.968,"color":"#62d96200"},{"offset":0.9696,"color":"#62d962"},{"offset":0.9712,"color":"#62d96200"},
{"offset":0.976,"color":"#62d96200"},{"offset":0.9776,"color":"#62d962"},{"offset":0.9792,"color":"#62d96200"},
{"offset":0.984,"color":"#62d96200"},{"offset":0.9856,"color":"#62d962"},{"offset":0.9872,"color":"#62d96200"},
{"offset":0.992,"color":"#62d96200"},{"offset":0.9936,"color":"#62d962"},{"offset":0.9952,"color":"#62d96200"}
 ]}},
 "encoding": {
  "x": {"field": "eta", "type": "quantitative", "scale": {"domain": [-4.5, 4.5], "nice": false, "zero": false},
   "axis": {"orient": "top", "values": [-4,-3,-2,-1,0,1,2,3,4], "labels": false, "tickSize": -14, "domain": true, "title": null}},
  "y": {"field": "density", "type": "quantitative", "scale": {"domain": [0, 0.06], "nice": false},
   "axis": {"orient": "right", "values": [0.01,0.02,0.03,0.04,0.05], "labels": false, "tickSize": -16, "domain": true, "title": null}}
 }
},
{
 "mark": {"type": "line", "interpolate": "step-after", "strokeWidth": 2, "strokeJoin": "miter"},
 "encoding": {
  "x": {"field": "eta", "type": "quantitative", "scale": {"domain": [-4.5, 4.5], "nice": false, "zero": false},
   "axis": {"orient": "bottom", "values": [-4,-3,-2,-1,0,1,2,3,4], "labels": false, "tickSize": -14, "domain": false, "title": null}},
  "y": {"field": "density", "type": "quantitative", "scale": {"domain": [0, 0.06], "nice": false},
   "axis": {"orient": "left", "values": [0.01,0.02,0.03,0.04,0.05], "labels": false, "tickSize": -16, "domain": false, "title": null}},
  "stroke": {"field": "process", "type": "nominal", "scale": {"domain": ["ggF", "VBF"], "range": ["#1a80dc", "#62d962"]},
   "legend": {"orient": "none", "legendX": 328, "legendY": 72.8, "title": null, "padding": 0, "symbolType": "M-0.95,-1H2.27V1H-0.95Z", "symbolSize": 484, "symbolStrokeWidth": 2, "labelFontSize": 15, "labelFont": "Liberation Sans", "labelColor": "#000", "labelOffset": 20.3, "rowPadding": 7.5, "clipHeight": 24,
    "encode": {"symbols": {"update": {"fill": {"signal": "datum.value === 'ggF' ? {gradient: 'linear', x1: 0, y1: 0, x2: 1.17, y2: 0.725, stops: [{offset: 0, color: '#1a80dc00'}, {offset: 0.06, color: '#1a80dc00'}, {offset: 0.085, color: '#1a80dc'}, {offset: 0.11, color: '#1a80dc00'}, {offset: 0.185, color: '#1a80dc00'}, {offset: 0.21, color: '#1a80dc'}, {offset: 0.235, color: '#1a80dc00'}, {offset: 0.31, color: '#1a80dc00'}, {offset: 0.335, color: '#1a80dc'}, {offset: 0.36, color: '#1a80dc00'}, {offset: 0.435, color: '#1a80dc00'}, {offset: 0.46, color: '#1a80dc'}, {offset: 0.485, color: '#1a80dc00'}, {offset: 0.56, color: '#1a80dc00'}, {offset: 0.585, color: '#1a80dc'}, {offset: 0.61, color: '#1a80dc00'}, {offset: 0.685, color: '#1a80dc00'}, {offset: 0.71, color: '#1a80dc'}, {offset: 0.735, color: '#1a80dc00'}, {offset: 0.81, color: '#1a80dc00'}, {offset: 0.835, color: '#1a80dc'}, {offset: 0.86, color: '#1a80dc00'}, {offset: 0.935, color: '#1a80dc00'}, {offset: 0.96, color: '#1a80dc'}, {offset: 0.985, color: '#1a80dc00'}]} : {gradient: 'linear', x1: 0, y1: 1, x2: 1.17, y2: 0.275, stops: [{offset: 0, color: '#62d96200'}, {offset: 0.06, color: '#62d96200'}, {offset: 0.085, color: '#62d962'}, {offset: 0.11, color: '#62d96200'}, {offset: 0.185, color: '#62d96200'}, {offset: 0.21, color: '#62d962'}, {offset: 0.235, color: '#62d96200'}, {offset: 0.31, color: '#62d96200'}, {offset: 0.335, color: '#62d962'}, {offset: 0.36, color: '#62d96200'}, {offset: 0.435, color: '#62d96200'}, {offset: 0.46, color: '#62d962'}, {offset: 0.485, color: '#62d96200'}, {offset: 0.56, color: '#62d96200'}, {offset: 0.585, color: '#62d962'}, {offset: 0.61, color: '#62d96200'}, {offset: 0.685, color: '#62d96200'}, {offset: 0.71, color: '#62d962'}, {offset: 0.735, color: '#62d96200'}, {offset: 0.81, color: '#62d96200'}, {offset: 0.835, color: '#62d962'}, {offset: 0.86, color: '#62d96200'}, {offset: 0.935, color: '#62d96200'}, {offset: 0.96, color: '#62d962'}, {offset: 0.985, color: '#62d96200'}]}"}}}}}}
 }
},
{
 "data": {"values": [{}]},
 "mark": {"type": "text", "text": "ATLAS", "fontSize": 29, "fontWeight": "bold", "fontStyle": "italic"},
 "encoding": {
  "x": {"datum": -4.023, "type": "quantitative", "scale": {"domain": [-4.5, 4.5], "nice": false, "zero": false},
   "axis": {"orient": "bottom", "values": [-4.4,-4.2,-3.8,-3.6,-3.4,-3.2,-2.8,-2.6,-2.4,-2.2,-1.8,-1.6,-1.4,-1.2,-0.8,-0.6,-0.4,-0.2,0.2,0.4,0.6,0.8,1.2,1.4,1.6,1.8,2.2,2.4,2.6,2.8,3.2,3.4,3.6,3.8,4.2,4.4], "labels": false, "tickSize": -7, "domain": false, "title": null}},
  "y": {"datum": 0.05432, "type": "quantitative", "scale": {"domain": [0, 0.06], "nice": false},
   "axis": {"orient": "left", "values": [0.002,0.004,0.006,0.008,0.012,0.014,0.016,0.018,0.022,0.024,0.026,0.028,0.032,0.034,0.036,0.038,0.042,0.044,0.046,0.048,0.052,0.054,0.056,0.058], "labels": false, "tickSize": -8, "domain": false, "title": null}}
 }
},
{
 "data": {"values": [{}]},
 "mark": {"type": "text", "text": "Simulation", "fontSize": 23},
 "encoding": {
  "x": {"datum": -2.103, "type": "quantitative", "scale": {"domain": [-4.5, 4.5], "nice": false, "zero": false},
   "axis": {"orient": "top", "values": [-4.4,-4.2,-3.8,-3.6,-3.4,-3.2,-2.8,-2.6,-2.4,-2.2,-1.8,-1.6,-1.4,-1.2,-0.8,-0.6,-0.4,-0.2,0.2,0.4,0.6,0.8,1.2,1.4,1.6,1.8,2.2,2.4,2.6,2.8,3.2,3.4,3.6,3.8,4.2,4.4], "labels": false, "tickSize": -7, "domain": false, "title": null}},
  "y": {"datum": 0.05432, "type": "quantitative", "scale": {"domain": [0, 0.06], "nice": false},
   "axis": {"orient": "right", "values": [0.002,0.004,0.006,0.008,0.012,0.014,0.016,0.018,0.022,0.024,0.026,0.028,0.032,0.034,0.036,0.038,0.042,0.044,0.046,0.048,0.052,0.054,0.056,0.058], "labels": false, "tickSize": -8, "domain": false, "title": null}}
 }
},
{
 "data": {"values": [{}]},
 "mark": {"type": "text", "text": "m", "fontSize": 19.5},
 "encoding": {
  "x": {"datum": 2.123, "type": "quantitative", "scale": {"domain": [-4.5, 4.5], "nice": false, "zero": false}, "axis": null},
  "y": {"datum": 0.05472, "type": "quantitative", "scale": {"domain": [0, 0.06], "nice": false}, "axis": null}
 }
},
{
 "data": {"values": [{}]},
 "mark": {"type": "text", "text": "H", "fontSize": 13},
 "encoding": {
  "x": {"datum": 2.4, "type": "quantitative", "scale": {"domain": [-4.5, 4.5], "nice": false, "zero": false}, "axis": null},
  "y": {"datum": 0.05405, "type": "quantitative", "scale": {"domain": [0, 0.06], "nice": false}, "axis": null}
 }
},
{
 "data": {"values": [{}]},
 "mark": {"type": "text", "text": "=125 GeV", "fontSize": 19.5, "align": "right"},
 "encoding": {
  "x": {"datum": 4.09, "type": "quantitative", "scale": {"domain": [-4.5, 4.5], "nice": false, "zero": false}, "axis": null},
  "y": {"datum": 0.05472, "type": "quantitative", "scale": {"domain": [0, 0.06], "nice": false}, "axis": null}
 }
},
{
 "data": {"values": [{}]},
 "mark": {"type": "text", "text": "H → ZZ* → 4l", "fontSize": 18},
 "encoding": {
  "x": {"datum": -4.023, "type": "quantitative", "scale": {"domain": [-4.5, 4.5], "nice": false, "zero": false}, "axis": null},
  "y": {"datum": 0.05047, "type": "quantitative", "scale": {"domain": [0, 0.06], "nice": false}, "axis": null}
 }
},
{
 "data": {"values": [{}]},
 "mark": {"type": "text", "text": "√s = 7 TeV", "fontSize": 18},
 "encoding": {
  "x": {"datum": -4.023, "type": "quantitative", "scale": {"domain": [-4.5, 4.5], "nice": false, "zero": false}, "axis": null},
  "y": {"datum": 0.0464, "type": "quantitative", "scale": {"domain": [0, 0.06], "nice": false}, "axis": null}
 }
},
{
 "data": {"values": [{}]},
 "mark": {"type": "text", "text": "∫Ldt = 4.5 fb⁻¹", "fontSize": 18},
 "encoding": {
  "x": {"datum": -2.251, "type": "quantitative", "scale": {"domain": [-4.5, 4.5], "nice": false, "zero": false}, "axis": null},
  "y": {"datum": 0.0464, "type": "quantitative", "scale": {"domain": [0, 0.06], "nice": false}, "axis": null}
 }
},
{
 "data": {"values": [{}]},
 "mark": {"type": "text", "text": "√s = 8 TeV", "fontSize": 18},
 "encoding": {
  "x": {"datum": -4.023, "type": "quantitative", "scale": {"domain": [-4.5, 4.5], "nice": false, "zero": false}, "axis": null},
  "y": {"datum": 0.04275, "type": "quantitative", "scale": {"domain": [0, 0.06], "nice": false}, "axis": null}
 }
},
{
 "data": {"values": [{}]},
 "mark": {"type": "text", "text": "∫Ldt = 20.3 fb⁻¹", "fontSize": 18},
 "encoding": {
  "x": {"datum": -2.251, "type": "quantitative", "scale": {"domain": [-4.5, 4.5], "nice": false, "zero": false}, "axis": null},
  "y": {"datum": 0.04275, "type": "quantitative", "scale": {"domain": [0, 0.06], "nice": false}, "axis": null}
 }
},
{
 "data": {"values": [{}]},
 "mark": {"type": "text", "text": "VBF enriched", "fontSize": 18, "fontStyle": "italic"},
 "encoding": {
  "x": {"datum": -4.023, "type": "quantitative", "scale": {"domain": [-4.5, 4.5], "nice": false, "zero": false}, "axis": null},
  "y": {"datum": 0.03796, "type": "quantitative", "scale": {"domain": [0, 0.06], "nice": false}, "axis": null}
 }
},
{
 "data": {"values": [{}]},
 "mark": {"type": "text", "text": "category", "fontSize": 18},
 "encoding": {
  "x": {"datum": -2.075, "type": "quantitative", "scale": {"domain": [-4.5, 4.5], "nice": false, "zero": false}, "axis": null},
  "y": {"datum": 0.03796, "type": "quantitative", "scale": {"domain": [0, 0.06], "nice": false}, "axis": null}
 }
}
]
}
